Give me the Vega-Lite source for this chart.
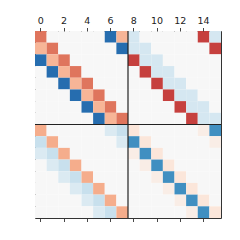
{
  "$schema": "https://vega.github.io/schema/vega-lite/v6.json",
  "autosize": "none",
  "width": 186,
  "height": 187,
  "padding": {"left": 35, "top": 31, "right": 19, "bottom": 22},
  "background": "white",
  "config": {
    "view": {"stroke": "#333333", "strokeWidth": 1},
    "axis": {"labelFont": "DejaVu Sans", "labelFontSize": 9.5, "labelColor": "#222222", "tickColor": "#333333", "tickSize": 3.5, "tickWidth": 0.9, "labelPadding": 2, "domain": false, "grid": false, "title": null}
  },
  "layer": [
    {
      "data": {"values": [
        {"y":0,"x":0,"v":0.54},{"y":0,"x":1,"v":0},{"y":0,"x":2,"v":0},{"y":0,"x":3,"v":0},{"y":0,"x":4,"v":0},{"y":0,"x":5,"v":0},{"y":0,"x":6,"v":-0.77},{"y":0,"x":7,"v":0.34},{"y":0,"x":8,"v":-0.18},{"y":0,"x":9,"v":0},{"y":0,"x":10,"v":0},{"y":0,"x":11,"v":0},{"y":0,"x":12,"v":0},{"y":0,"x":13,"v":0},{"y":0,"x":14,"v":0.69},{"y":0,"x":15,"v":-0.18},
        {"y":1,"x":0,"v":0.34},{"y":1,"x":1,"v":0.54},{"y":1,"x":2,"v":0},{"y":1,"x":3,"v":0},{"y":1,"x":4,"v":0},{"y":1,"x":5,"v":0},{"y":1,"x":6,"v":0},{"y":1,"x":7,"v":-0.77},{"y":1,"x":8,"v":-0.18},{"y":1,"x":9,"v":-0.18},{"y":1,"x":10,"v":0},{"y":1,"x":11,"v":0},{"y":1,"x":12,"v":0},{"y":1,"x":13,"v":0},{"y":1,"x":14,"v":0},{"y":1,"x":15,"v":0.69},
        {"y":2,"x":0,"v":-0.77},{"y":2,"x":1,"v":0.34},{"y":2,"x":2,"v":0.54},{"y":2,"x":3,"v":0},{"y":2,"x":4,"v":0},{"y":2,"x":5,"v":0},{"y":2,"x":6,"v":0},{"y":2,"x":7,"v":0},{"y":2,"x":8,"v":0.69},{"y":2,"x":9,"v":-0.18},{"y":2,"x":10,"v":-0.18},{"y":2,"x":11,"v":0},{"y":2,"x":12,"v":0},{"y":2,"x":13,"v":0},{"y":2,"x":14,"v":0},{"y":2,"x":15,"v":0},
        {"y":3,"x":0,"v":0},{"y":3,"x":1,"v":-0.77},{"y":3,"x":2,"v":0.34},{"y":3,"x":3,"v":0.54},{"y":3,"x":4,"v":0},{"y":3,"x":5,"v":0},{"y":3,"x":6,"v":0},{"y":3,"x":7,"v":0},{"y":3,"x":8,"v":0},{"y":3,"x":9,"v":0.69},{"y":3,"x":10,"v":-0.18},{"y":3,"x":11,"v":-0.18},{"y":3,"x":12,"v":0},{"y":3,"x":13,"v":0},{"y":3,"x":14,"v":0},{"y":3,"x":15,"v":0},
        {"y":4,"x":0,"v":0},{"y":4,"x":1,"v":0},{"y":4,"x":2,"v":-0.77},{"y":4,"x":3,"v":0.34},{"y":4,"x":4,"v":0.54},{"y":4,"x":5,"v":0},{"y":4,"x":6,"v":0},{"y":4,"x":7,"v":0},{"y":4,"x":8,"v":0},{"y":4,"x":9,"v":0},{"y":4,"x":10,"v":0.69},{"y":4,"x":11,"v":-0.18},{"y":4,"x":12,"v":-0.18},{"y":4,"x":13,"v":0},{"y":4,"x":14,"v":0},{"y":4,"x":15,"v":0},
        {"y":5,"x":0,"v":0},{"y":5,"x":1,"v":0},{"y":5,"x":2,"v":0},{"y":5,"x":3,"v":-0.77},{"y":5,"x":4,"v":0.34},{"y":5,"x":5,"v":0.54},{"y":5,"x":6,"v":0},{"y":5,"x":7,"v":0},{"y":5,"x":8,"v":0},{"y":5,"x":9,"v":0},{"y":5,"x":10,"v":0},{"y":5,"x":11,"v":0.69},{"y":5,"x":12,"v":-0.18},{"y":5,"x":13,"v":-0.18},{"y":5,"x":14,"v":0},{"y":5,"x":15,"v":0},
        {"y":6,"x":0,"v":0},{"y":6,"x":1,"v":0},{"y":6,"x":2,"v":0},{"y":6,"x":3,"v":0},{"y":6,"x":4,"v":-0.77},{"y":6,"x":5,"v":0.34},{"y":6,"x":6,"v":0.54},{"y":6,"x":7,"v":0},{"y":6,"x":8,"v":0},{"y":6,"x":9,"v":0},{"y":6,"x":10,"v":0},{"y":6,"x":11,"v":0},{"y":6,"x":12,"v":0.69},{"y":6,"x":13,"v":-0.18},{"y":6,"x":14,"v":-0.18},{"y":6,"x":15,"v":0},
        {"y":7,"x":0,"v":0},{"y":7,"x":1,"v":0},{"y":7,"x":2,"v":0},{"y":7,"x":3,"v":0},{"y":7,"x":4,"v":0},{"y":7,"x":5,"v":-0.77},{"y":7,"x":6,"v":0.34},{"y":7,"x":7,"v":0.54},{"y":7,"x":8,"v":0},{"y":7,"x":9,"v":0},{"y":7,"x":10,"v":0},{"y":7,"x":11,"v":0},{"y":7,"x":12,"v":0},{"y":7,"x":13,"v":0.69},{"y":7,"x":14,"v":-0.18},{"y":7,"x":15,"v":-0.18},
        {"y":8,"x":0,"v":0.37},{"y":8,"x":1,"v":0},{"y":8,"x":2,"v":0},{"y":8,"x":3,"v":0},{"y":8,"x":4,"v":0},{"y":8,"x":5,"v":0},{"y":8,"x":6,"v":-0.15},{"y":8,"x":7,"v":-0.23},{"y":8,"x":8,"v":0.12},{"y":8,"x":9,"v":0},{"y":8,"x":10,"v":0},{"y":8,"x":11,"v":0},{"y":8,"x":12,"v":0},{"y":8,"x":13,"v":0},{"y":8,"x":14,"v":0.07},{"y":8,"x":15,"v":-0.62},
        {"y":9,"x":0,"v":-0.23},{"y":9,"x":1,"v":0.37},{"y":9,"x":2,"v":0},{"y":9,"x":3,"v":0},{"y":9,"x":4,"v":0},{"y":9,"x":5,"v":0},{"y":9,"x":6,"v":0},{"y":9,"x":7,"v":-0.15},{"y":9,"x":8,"v":-0.62},{"y":9,"x":9,"v":0.12},{"y":9,"x":10,"v":0},{"y":9,"x":11,"v":0},{"y":9,"x":12,"v":0},{"y":9,"x":13,"v":0},{"y":9,"x":14,"v":0},{"y":9,"x":15,"v":0.07},
        {"y":10,"x":0,"v":-0.15},{"y":10,"x":1,"v":-0.23},{"y":10,"x":2,"v":0.37},{"y":10,"x":3,"v":0},{"y":10,"x":4,"v":0},{"y":10,"x":5,"v":0},{"y":10,"x":6,"v":0},{"y":10,"x":7,"v":0},{"y":10,"x":8,"v":0.07},{"y":10,"x":9,"v":-0.62},{"y":10,"x":10,"v":0.12},{"y":10,"x":11,"v":0},{"y":10,"x":12,"v":0},{"y":10,"x":13,"v":0},{"y":10,"x":14,"v":0},{"y":10,"x":15,"v":0},
        {"y":11,"x":0,"v":0},{"y":11,"x":1,"v":-0.15},{"y":11,"x":2,"v":-0.23},{"y":11,"x":3,"v":0.37},{"y":11,"x":4,"v":0},{"y":11,"x":5,"v":0},{"y":11,"x":6,"v":0},{"y":11,"x":7,"v":0},{"y":11,"x":8,"v":0},{"y":11,"x":9,"v":0.07},{"y":11,"x":10,"v":-0.62},{"y":11,"x":11,"v":0.12},{"y":11,"x":12,"v":0},{"y":11,"x":13,"v":0},{"y":11,"x":14,"v":0},{"y":11,"x":15,"v":0},
        {"y":12,"x":0,"v":0},{"y":12,"x":1,"v":0},{"y":12,"x":2,"v":-0.15},{"y":12,"x":3,"v":-0.23},{"y":12,"x":4,"v":0.37},{"y":12,"x":5,"v":0},{"y":12,"x":6,"v":0},{"y":12,"x":7,"v":0},{"y":12,"x":8,"v":0},{"y":12,"x":9,"v":0},{"y":12,"x":10,"v":0.07},{"y":12,"x":11,"v":-0.62},{"y":12,"x":12,"v":0.12},{"y":12,"x":13,"v":0},{"y":12,"x":14,"v":0},{"y":12,"x":15,"v":0},
        {"y":13,"x":0,"v":0},{"y":13,"x":1,"v":0},{"y":13,"x":2,"v":0},{"y":13,"x":3,"v":-0.15},{"y":13,"x":4,"v":-0.23},{"y":13,"x":5,"v":0.37},{"y":13,"x":6,"v":0},{"y":13,"x":7,"v":0},{"y":13,"x":8,"v":0},{"y":13,"x":9,"v":0},{"y":13,"x":10,"v":0},{"y":13,"x":11,"v":0.07},{"y":13,"x":12,"v":-0.62},{"y":13,"x":13,"v":0.12},{"y":13,"x":14,"v":0},{"y":13,"x":15,"v":0},
        {"y":14,"x":0,"v":0},{"y":14,"x":1,"v":0},{"y":14,"x":2,"v":0},{"y":14,"x":3,"v":0},{"y":14,"x":4,"v":-0.15},{"y":14,"x":5,"v":-0.23},{"y":14,"x":6,"v":0.37},{"y":14,"x":7,"v":0},{"y":14,"x":8,"v":0},{"y":14,"x":9,"v":0},{"y":14,"x":10,"v":0},{"y":14,"x":11,"v":0},{"y":14,"x":12,"v":0.07},{"y":14,"x":13,"v":-0.62},{"y":14,"x":14,"v":0.12},{"y":14,"x":15,"v":0},
        {"y":15,"x":0,"v":0},{"y":15,"x":1,"v":0},{"y":15,"x":2,"v":0},{"y":15,"x":3,"v":0},{"y":15,"x":4,"v":0},{"y":15,"x":5,"v":-0.15},{"y":15,"x":6,"v":-0.23},{"y":15,"x":7,"v":0.37},{"y":15,"x":8,"v":0},{"y":15,"x":9,"v":0},{"y":15,"x":10,"v":0},{"y":15,"x":11,"v":0},{"y":15,"x":12,"v":0},{"y":15,"x":13,"v":0.07},{"y":15,"x":14,"v":-0.62},{"y":15,"x":15,"v":0.12}
      ]},
      "mark": {"type": "rect", "strokeWidth": 0},
      "encoding": {
        "x": {"field": "x", "type": "ordinal", "scale": {"domain": [0,1,2,3,4,5,6,7,8,9,10,11,12,13,14,15], "paddingInner": 0, "paddingOuter": 0}, "axis": {"orient": "top", "values": [0,2,4,6,8,10,12,14], "labelAngle": 0}},
        "y": {"field": "y", "type": "ordinal", "scale": {"domain": [0,1,2,3,4,5,6,7,8,9,10,11,12,13,14,15], "paddingInner": 0, "paddingOuter": 0}, "axis": {"orient": "left", "values": [0,2,4,6,8,10,12,14]}},
        "color": {"field": "v", "type": "quantitative", "legend": null, "scale": {"type": "linear", "domain": [-1,-0.8,-0.6,-0.4,-0.2,0,0.2,0.4,0.6,0.8,1], "range": ["#053061","#2166ac","#4393c3","#92c5de","#d1e5f0","#f7f7f7","#fddbc7","#f4a582","#d6604d","#b2182b","#67001f"], "interpolate": "rgb"}}
      }
    },
    {
      "data": {"values": [{"b": 8}]},
      "mark": {"type": "rule", "color": "#222222", "strokeWidth": 1.2},
      "encoding": {
        "x": {"field": "b", "type": "ordinal", "bandPosition": 0, "axis": {"orient": "bottom", "values": [0,2,4,6,8,10,12,14], "labels": false}}
      }
    },
    {
      "data": {"values": [{"b": 8}]},
      "mark": {"type": "rule", "color": "#222222", "strokeWidth": 1.2},
      "encoding": {
        "y": {"field": "b", "type": "ordinal", "bandPosition": 0, "axis": null}
      }
    }
  ],
  "resolve": {"axis": {"x": "independent"}}
}
